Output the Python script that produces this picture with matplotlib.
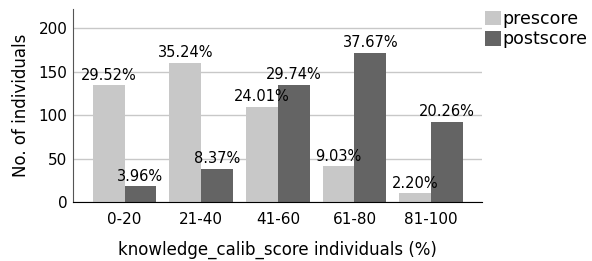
import numpy as np
import matplotlib.pyplot as plt

plt.rcParams['font.family'] = ['DejaVu Sans']

categories = ['0-20', '21-40', '41-60', '61-80', '81-100']
prescore = [134, 160, 109, 41, 10]
postscore = [18, 38, 135, 171, 92]
pre_labels = ['29.52%', '35.24%', '24.01%', '9.03%', '2.20%']
post_labels = ['3.96%', '8.37%', '29.74%', '37.67%', '20.26%']

fig = plt.figure(figsize=(5.92, 2.61), dpi=100)
ax = fig.add_axes([0.123, 0.226, 0.692, 0.74])

x = np.arange(len(categories))
w = 0.415
b1 = ax.bar(x - w/2, prescore, w, color='#c8c8c8', label='prescore', zorder=2)
b2 = ax.bar(x + w/2, postscore, w, color='#646464', label='postscore', zorder=2)

for bars, labs in [(b1, pre_labels), (b2, post_labels)]:
    for bar, lab in zip(bars, labs):
        ax.annotate(lab, (bar.get_x() + bar.get_width()/2, bar.get_height()),
                    xytext=(0, 2), textcoords='offset points',
                    ha='center', va='bottom', fontsize=10.5, zorder=3)

ax.set_xlim(-0.675, 4.67)
ax.set_ylim(0, 222)
ax.set_yticks([0, 50, 100, 150, 200])
ax.set_xticks(x)
ax.set_xticklabels(categories)
ax.tick_params(length=0, labelsize=11)
ax.tick_params(axis='x', pad=7)
ax.tick_params(axis='y', pad=4)
ax.yaxis.grid(True, color='#c8c8c8', linewidth=1, zorder=0)
ax.spines['top'].set_visible(False)
ax.spines['right'].set_visible(False)
ax.spines['left'].set_color('#555555')
ax.spines['bottom'].set_color('black')
ax.set_ylabel('No. of individuals', fontsize=12, labelpad=6)
ax.set_xlabel('knowledge_calib_score individuals (%)', fontsize=12, labelpad=10)

ax.legend(loc='upper left', bbox_to_anchor=(1.005, 0.995), frameon=False,
          fontsize=12.5, handlelength=0.92, handleheight=0.92, handletextpad=0.12,
          labelspacing=0.15, borderaxespad=0, borderpad=0)

fig.savefig('out.png', dpi=100)
